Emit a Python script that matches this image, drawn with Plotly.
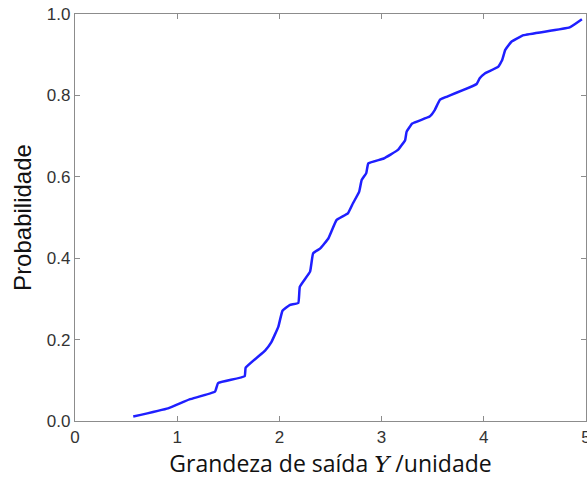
import plotly.graph_objects as go

x_vals = [0.57, 0.91, 1.12, 1.37, 1.40, 1.66, 1.67, 1.86, 1.92, 1.99, 2.03, 2.10, 2.185,
          2.20, 2.30, 2.33, 2.40, 2.48, 2.56, 2.67, 2.72, 2.78, 2.805, 2.85, 2.87,
          3.02, 3.16, 3.23, 3.245, 3.30, 3.47, 3.52, 3.57, 3.62, 3.93, 3.96, 4.01,
          4.14, 4.18, 4.21, 4.27, 4.39, 4.84, 4.96]
y_vals = [0.011, 0.031, 0.053, 0.072, 0.093, 0.110, 0.131, 0.173, 0.193, 0.232, 0.271, 0.285, 0.290,
          0.330, 0.367, 0.412, 0.424, 0.449, 0.494, 0.510, 0.535, 0.563, 0.592, 0.609, 0.633,
          0.645, 0.666, 0.690, 0.711, 0.731, 0.748, 0.764, 0.789, 0.795, 0.828, 0.842, 0.854,
          0.870, 0.887, 0.912, 0.932, 0.948, 0.967, 0.987]

x_ticks = [0, 1, 2, 3, 4, 5]
x_tick_labels = ["0", "1", "2", "3", "4", "5"]
y_ticks = [0.0, 0.2, 0.4, 0.6, 0.8, 1.0]
y_tick_labels = ["0.0", "0.2", "0.4", "0.6", "0.8", "1.0"]

fig = go.Figure()
fig.add_trace(go.Scatter(x=x_vals, y=y_vals, mode="lines",
                         line=dict(color="#1f1fff", width=2.5, shape="spline", smoothing=0.3),
                         showlegend=False, hoverinfo="skip"))

axis_common = dict(showgrid=False, zeroline=False, showline=True, linecolor="#8c8c8c",
                   linewidth=1.2, mirror="ticks", ticks="inside", ticklen=5,
                   tickcolor="#8c8c8c", tickwidth=1, ticklabeloverflow="allow",
                   automargin=False,
                   tickfont=dict(family="Liberation Sans, Arial", size=17, color="#333333"))

fig.update_xaxes(range=[0, 5], tickvals=x_ticks, ticktext=x_tick_labels,
                 title=dict(text='Grandeza de saída <span style="font-family:DejaVu Serif"><i>Y</i></span> /unidade',
                            font=dict(family="Open Sans, Noto Sans", size=23, color="#111111"),
                            standoff=10),
                 **axis_common)
fig.update_yaxes(range=[0, 1], tickvals=y_ticks, ticktext=y_tick_labels,
                 title=dict(text="Probabilidade",
                            font=dict(family="Liberation Sans, Arial", size=24, color="#111111"),
                            standoff=8),
                 **axis_common)

fig.update_layout(width=587, height=488, margin=dict(l=75, r=1, t=14, b=67),
                  plot_bgcolor="white", paper_bgcolor="white")

fig.write_html("out.html")
